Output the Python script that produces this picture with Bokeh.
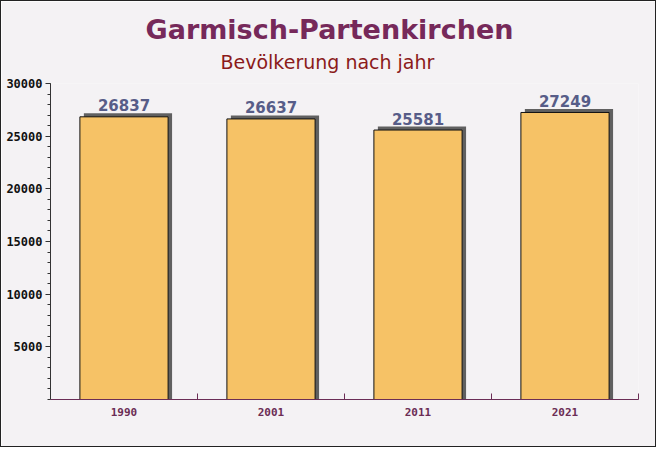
from bokeh.plotting import figure
from bokeh.models import ColumnDataSource, FixedTicker, LabelSet, Range1d, Title
from bokeh.core.properties import value
from bokeh.embed import file_html
from bokeh.resources import INLINE

years = ["1990", "2001", "2011", "2021"]
population = [26837, 26637, 25581, 27249]
y_ticks = [5000, 10000, 15000, 20000, 25000, 30000]

xs = [i + 0.5 for i in range(len(years))]
src = ColumnDataSource(dict(
    x=xs,
    xs=[x + 0.027 for x in xs],
    top=population,
    stop=[v + 330 for v in population],
    label=[str(v) for v in population],
))

bg = "#f4f2f4"
p = figure(width=656, height=447, output_backend="svg", toolbar_location=None,
           x_range=Range1d(0, len(years)), y_range=Range1d(0, 30000),
           min_border_left=49, min_border_right=19, min_border_top=82, min_border_bottom=49,
           background_fill_color=bg, border_fill_color=bg, outline_line_color=None,
           styles={"border": "1px solid #222"})

p.title.text = "Garmisch-Partenkirchen"
p.title.align = "left"
p.title.offset = 95
p.title.text_font = "DejaVu Sans"
p.title.text_font_size = "27px"
p.title.text_font_style = "bold"
p.title.text_color = "#76295a"
p.title.standoff = -12
sub = Title(text="Bevölkerung nach jahr", align="left", offset=170, text_font="DejaVu Sans",
            text_font_size="19px", text_font_style="normal", text_color="#8b1a1a", standoff=21,
            text_line_height=0.75)
p.add_layout(sub, "above")

p.xgrid.visible = False
p.ygrid.visible = False

# shadow
p.vbar(x="xs", top="stop", bottom=0, width=0.6, source=src, fill_color="#505050",
       line_color=None, fill_alpha=0.9)
p.vbar(x="x", top="top", bottom=0, width=0.6, source=src, fill_color="#f6c266",
       line_color="#111111", line_width=1)

labels = LabelSet(x="x", y="stop", text="label", source=src, text_align="center",
                  text_baseline="bottom", y_offset=2, text_font=value("DejaVu Sans"),
                  text_font_size=value("15px"), text_font_style="bold", text_color="#575d88")
p.add_layout(labels)

p.xaxis.ticker = FixedTicker(ticks=xs, minor_ticks=list(range(1, len(years) + 1)))
p.xaxis.major_label_overrides = {x: y for x, y in zip(xs, years)}
p.xaxis.major_tick_in = 0
p.xaxis.major_tick_out = 0
p.xaxis.minor_tick_in = 6
p.xaxis.minor_tick_out = 0
p.xaxis.minor_tick_line_color = "#6b2d55"
p.xaxis.axis_line_color = "#6b2d55"
p.xaxis.major_label_text_font = "DejaVu Sans Mono"
p.xaxis.major_label_text_font_style = "bold"
p.xaxis.major_label_text_font_size = "11px"
p.xaxis.major_label_text_color = "#6b2d55"
p.xaxis.major_label_standoff = 8

p.yaxis.ticker = FixedTicker(ticks=y_ticks, minor_ticks=list(range(0, 30001, 1000)))
p.yaxis.major_tick_in = 0
p.yaxis.major_tick_out = 5
p.yaxis.minor_tick_in = 0
p.yaxis.minor_tick_out = 3
p.yaxis.axis_line_color = "#333333"
p.yaxis.major_tick_line_color = "#333333"
p.yaxis.minor_tick_line_color = "#333333"
p.yaxis.major_label_text_font = "DejaVu Sans Mono"
p.yaxis.major_label_text_font_style = "bold"
p.yaxis.major_label_text_font_size = "12px"
p.yaxis.major_label_text_color = "#111111"
p.yaxis.major_label_standoff = 3

open("out.html", "w").write(file_html(p, INLINE))
